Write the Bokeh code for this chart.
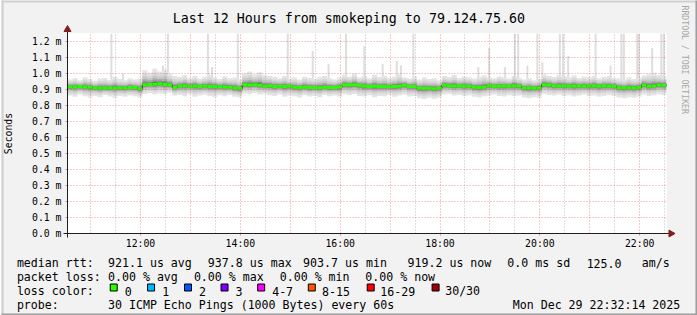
import math
import pandas as pd
from bokeh.plotting import figure
from bokeh.core.properties import value
from bokeh.models import (Range1d, FixedTicker, CustomJSTickFormatter, DatetimeTickFormatter)
from bokeh.embed import file_html
from bokeh.resources import INLINE

# ---------------- data ----------------
DAY = "2025-12-29"
START = "10:32:14"
END = "22:32:14"
BIN_MINUTES = 6

median_ms = [
    0.917, 0.916, 0.918, 0.916, 0.915, 0.909, 0.910, 0.908, 0.911, 0.910,
    0.909, 0.911, 0.913, 0.912, 0.904, 0.929, 0.931, 0.933, 0.936, 0.931,
    0.929, 0.912, 0.922, 0.923, 0.921, 0.922, 0.919, 0.920, 0.918, 0.919,
    0.917, 0.916, 0.914, 0.909, 0.906, 0.929, 0.928, 0.930, 0.927, 0.921,
    0.923, 0.919, 0.921, 0.918, 0.920, 0.914, 0.913, 0.915, 0.912, 0.913,
    0.911, 0.914, 0.912, 0.913, 0.915, 0.929, 0.928, 0.929, 0.926, 0.921,
    0.919, 0.920, 0.918, 0.919, 0.917, 0.919, 0.920, 0.927, 0.919, 0.918,
    0.908, 0.906, 0.908, 0.905, 0.907, 0.926, 0.924, 0.922, 0.923, 0.921,
    0.922, 0.914, 0.912, 0.916, 0.924, 0.921, 0.920, 0.922, 0.921, 0.924,
    0.922, 0.910, 0.909, 0.908, 0.910, 0.930, 0.928, 0.923, 0.922, 0.924,
    0.921, 0.922, 0.923, 0.921, 0.922, 0.923, 0.921, 0.922, 0.920, 0.921,
    0.911, 0.910, 0.911, 0.910, 0.912, 0.928, 0.920, 0.922, 0.928, 0.927,
]

smoke_hi_ms = [
    0.962, 0.970, 0.958, 0.975, 0.966, 0.955, 0.968, 0.972, 0.960, 0.978,
    0.965, 0.958, 0.970, 0.962, 0.968, 1.020, 1.005, 1.030, 1.012, 1.025,
    0.998, 0.985, 0.978, 0.990, 0.972, 0.985, 0.968, 0.980, 0.992, 0.975,
    0.966, 0.982, 0.970, 0.975, 0.962, 1.000, 1.012, 0.995, 1.008, 0.990,
    0.985, 0.978, 0.970, 0.985, 0.968, 0.975, 0.962, 0.980, 0.972, 0.966,
    0.978, 0.985, 0.970, 0.962, 0.975, 0.990, 0.982, 0.998, 0.975, 0.985,
    0.970, 0.992, 0.978, 0.986, 0.972, 0.980, 0.996, 0.975, 0.968, 0.982,
    0.962, 0.975, 0.966, 0.970, 0.958, 0.985, 0.978, 0.990, 0.972, 0.982,
    0.975, 0.968, 0.980, 0.988, 0.975, 0.970, 0.982, 0.976, 0.968, 0.985,
    0.972, 0.962, 0.970, 0.958, 0.965, 0.995, 0.985, 0.978, 0.990, 0.982,
    0.975, 0.988, 0.972, 0.980, 0.976, 0.985, 0.970, 0.978, 0.984, 0.972,
    0.968, 0.962, 0.975, 0.966, 0.970, 0.988, 0.995, 1.005, 0.990, 0.985,
]

smoke_lo_ms = [
    0.862, 0.855, 0.868, 0.858, 0.850, 0.860, 0.852, 0.865, 0.856, 0.848,
    0.860, 0.854, 0.862, 0.858, 0.850, 0.872, 0.878, 0.868, 0.875, 0.870,
    0.880, 0.862, 0.865, 0.858, 0.870, 0.855, 0.862, 0.868, 0.860, 0.852,
    0.864, 0.858, 0.866, 0.855, 0.850, 0.875, 0.870, 0.878, 0.868, 0.872,
    0.865, 0.860, 0.868, 0.855, 0.862, 0.858, 0.850, 0.864, 0.856, 0.860,
    0.852, 0.866, 0.858, 0.862, 0.855, 0.870, 0.865, 0.872, 0.860, 0.856,
    0.864, 0.852, 0.860, 0.858, 0.866, 0.855, 0.862, 0.868, 0.857, 0.860,
    0.845, 0.840, 0.848, 0.842, 0.850, 0.868, 0.872, 0.862, 0.866, 0.858,
    0.864, 0.855, 0.850, 0.858, 0.862, 0.868, 0.860, 0.856, 0.864, 0.858,
    0.862, 0.850, 0.846, 0.852, 0.848, 0.872, 0.866, 0.862, 0.868, 0.858,
    0.864, 0.856, 0.862, 0.868, 0.858, 0.862, 0.855, 0.860, 0.866, 0.858,
    0.850, 0.846, 0.852, 0.848, 0.855, 0.868, 0.860, 0.864, 0.870, 0.866,
]

spike_times = ["11:25", "11:39", "12:27", "12:33", "13:21", "13:26", "13:57",
               "14:57", "15:27", "15:46", "16:07", "16:29", "16:51", "17:08",
               "17:13", "17:28", "18:46", "18:59", "19:18", "19:30", "19:34",
               "19:45", "19:57", "20:03", "20:24", "20:28", "20:34", "21:07",
               "21:25", "21:38", "21:41", "21:57", "21:59", "22:15", "22:26",
               "22:29"]
spike_top_ms = [1.30, 1.00, 1.05, 1.30, 1.30, 1.04, 1.30,
                1.30, 1.14, 1.06, 1.30, 1.17, 1.06, 1.08,
                1.05, 1.30, 1.04, 1.16, 1.04, 1.30, 1.30,
                1.05, 1.30, 1.07, 1.30, 1.30, 1.11, 1.30,
                1.05, 1.30, 1.30, 1.30, 1.30, 1.16, 1.30,
                1.30]

y_ticks = [0.0, 0.1, 0.2, 0.3, 0.4, 0.5, 0.6, 0.7, 0.8, 0.9, 1.0, 1.1, 1.2]
x_tick_times = ["12:00", "14:00", "16:00", "18:00", "20:00", "22:00"]
grid_hours = ["11:00", "12:00", "13:00", "14:00", "15:00", "16:00", "17:00",
              "18:00", "19:00", "20:00", "21:00", "22:00"]
grid_half_hours = ["11:30", "12:30", "13:30", "14:30", "15:30", "16:30",
                   "17:30", "18:30", "19:30", "20:30", "21:30", "22:30"]

title_text = "Last 12 Hours from smokeping to 79.124.75.60"
y_title = "Seconds"
rtt_label = "median rtt:"
rtt_stats = ["921.1 us avg", "937.8 us max", "903.7 us min", "919.2 us now",
             "0.0 ms sd", "125.0", "am/s"]
loss_label = "packet loss:"
loss_stats = ["0.00 % avg", "0.00 % max", "0.00 % min", "0.00 % now"]
color_label = "loss color:"
loss_classes = ["0", "1", "2", "3", "4-7", "8-15", "16-29", "30/30"]
loss_class_colors = ["#26ff00", "#00b8ff", "#0059ff", "#7e00ff",
                     "#ff00ff", "#ff5500", "#ff0000", "#a10000"]
probe_label = "probe:"
probe_text = "30 ICMP Echo Pings (1000 Bytes) every 60s"
stamp_text = "Mon Dec 29 22:32:14 2025"
watermark_text = "RRDTOOL / TOBI OETIKER"

# ---------------- layout / style ----------------
W, H = 697, 315
FRAME_L, FRAME_R, FRAME_T, FRAME_B = 66, 666, 33, 233
FONT = "DejaVu Sans Mono"
BACK = "#f2f2f2"
MGRID = "#de4f4f"
GRIDC = "#8f8f8f"
ARROWC = "#801f1f"
AXISC = "#1f1f1f"
SMOKE = [(1.00, "#e4e4e4"), (0.75, "#d7d7d7"), (0.55, "#c6c6c6"),
         (0.38, "#adadad"), (0.24, "#8c8c8c"), (0.12, "#5e5e5e")]


def ms(hhmm):
    return pd.Timestamp(f"{DAY} {hhmm}").value / 1e6


t0, t1 = ms(START), ms(END)
bin_ms = BIN_MINUTES * 60000
n = len(median_ms)
left = [t0 + i * bin_ms for i in range(n)]
right = [x + bin_ms for x in left]
px_ms = (t1 - t0) / (FRAME_R - FRAME_L)          # ms per pixel
px_val = 1.25 / (FRAME_B - FRAME_T)              # value per pixel

p = figure(width=W, height=H, x_axis_type="datetime", output_backend="svg",
           toolbar_location=None, title=None,
           x_range=Range1d(t0, t1), y_range=Range1d(0, 1.25),
           min_border_left=FRAME_L, min_border_right=W - FRAME_R,
           min_border_top=FRAME_T, min_border_bottom=H - FRAME_B)
p.background_fill_color = "white"
p.border_fill_color = BACK
p.outline_line_color = None

# spikes (max ping)
p.vbar(x=[ms(t) for t in spike_times], width=2.4 * 60000, bottom=0.93,
       top=spike_top_ms, fill_color="#dedede", line_color=None)

# smoke
for f, col in SMOKE:
    bot = [m - f * (m - lo) for m, lo in zip(median_ms, smoke_lo_ms)]
    top = [m + f * (hi - m) for m, hi in zip(median_ms, smoke_hi_ms)]
    p.quad(left=left, right=right, bottom=bot, top=top,
           fill_color=col, line_color=None)

# median
p.step(x=left + [t1], y=median_ms + [median_ms[-1]], mode="after",
       line_color="#202020", line_width=1)
p.segment(x0=left, x1=right, y0=median_ms, y1=median_ms,
          line_color=loss_class_colors[0], line_width=3)

# grids (drawn over the data like rrdtool)
p.ygrid.ticker = FixedTicker(ticks=y_ticks)
p.ygrid.grid_line_color = MGRID
p.ygrid.grid_line_alpha = 0.6
p.ygrid.grid_line_dash = "1 2"
p.xgrid.ticker = FixedTicker(ticks=[ms(t) for t in grid_hours],
                             minor_ticks=[ms(t) for t in grid_half_hours])
p.xgrid.grid_line_color = MGRID
p.xgrid.grid_line_alpha = 0.6
p.xgrid.grid_line_dash = "1 2"
p.xgrid.minor_grid_line_color = GRIDC
p.xgrid.minor_grid_line_alpha = 0.6
p.xgrid.minor_grid_line_dash = "1 2"
for g in (p.xgrid, p.ygrid):
    g.level = "guide"

# axes
ya = p.yaxis[0]
ya.ticker = FixedTicker(ticks=y_ticks)
ya.formatter = CustomJSTickFormatter(code="return tick.toFixed(1) + ' m';")
ya.axis_line_color = None
ya.major_tick_line_color = MGRID
ya.major_tick_line_alpha = 0.6
ya.major_tick_out = 2
ya.major_tick_in = 0
ya.minor_tick_line_color = None
ya.major_label_standoff = 4
ya.major_label_text_font = FONT
ya.major_label_text_font_size = "9.8px"
ya.major_label_text_color = "black"
ya.axis_label = y_title
ya.axis_label_text_font = FONT
ya.axis_label_text_font_size = "9.8px"
ya.axis_label_text_font_style = "normal"
ya.axis_label_text_color = "black"
ya.axis_label_standoff = 15

xa = p.xaxis[0]
xa.ticker = FixedTicker(ticks=[ms(t) for t in x_tick_times])
hm = "%H:%M"
xa.formatter = DatetimeTickFormatter(hours=hm, hourmin=hm, minutes=hm, minsec=hm,
                                     seconds=hm, days=hm, months=hm, years=hm)
xa.axis_line_color = None
xa.major_tick_line_color = MGRID
xa.major_tick_line_alpha = 0.6
xa.major_tick_out = 2
xa.major_tick_in = 0
xa.minor_tick_line_color = None
xa.major_label_standoff = 2
xa.major_label_text_font = FONT
xa.major_label_text_font_size = "9.8px"
xa.major_label_text_color = "black"


# ---------- items outside the frame: glyphs on the overlay level ----------
def X(cx):
    return t0 + (cx - FRAME_L) * px_ms


def Y(cy):
    return (FRAME_B - cy) * px_val


def text(cx, cy, s, size="11.6px", align="left", color="black", angle=0.0):
    p.text(x=[X(cx)], y=[Y(cy)], text=[s], text_font=value(FONT),
           text_font_size=value(size), text_align=align,
           text_baseline="alphabetic", text_color=color, angle=angle,
           level="overlay")


def box(cx0, cy0, cx1, cy1, fill, line=None):
    p.quad(left=[X(cx0)], right=[X(cx1)], top=[Y(cy0)], bottom=[Y(cy1)],
           fill_color=fill, line_color=line, line_width=1, level="overlay")


# axis lines with arrow heads
p.segment(x0=[t0], y0=[-4 * px_val], x1=[t0], y1=[1.25 + 4 * px_val],
          line_color=AXISC, line_width=1, level="overlay")
p.segment(x0=[t0 - 4 * px_ms], y0=[0], x1=[t1 + 4 * px_ms], y1=[0],
          line_color=AXISC, line_width=1, level="overlay")
p.scatter(x=[t0], y=[1.25 + 4 * px_val], marker="triangle", size=7,
          fill_color=ARROWC, line_color=ARROWC, level="overlay")
p.scatter(x=[t1 + 4.5 * px_ms], y=[0], marker="triangle", size=7, angle=-math.pi / 2,
          fill_color=ARROWC, line_color=ARROWC, level="overlay")

# 3d frame
box(0, 0, W, 2, "#cfcfcf")
box(0, 0, 2, H, "#cfcfcf")
box(W - 2, 0, W, H, "#9e9e9e")
box(0, H - 2, W, H, "#9e9e9e")

text(347.8, 18.4, title_text, size="13.3px", align="center")
text(684.5, 5, watermark_text, size="8.2px", color="#a8a8a8", angle=-math.pi / 2)

ROW = [262.7, 276.7, 290.7, 304.8]
RTT_X = [107.3, 207.3, 302.7, 407.3, 507.3, 586.7, 642]
LOSS_X = [107.3, 193.3, 279.3, 365]
BOX_X = [108.3, 145.7, 182.7, 219.3, 256, 306.7, 365.7, 430.7]
CLASS_X = [124, 161.7, 198.3, 235, 271.7, 321.7, 380, 445]
LX = 16
adj = 0.7

text(LX - adj, ROW[0], rtt_label)
for x, s in zip(RTT_X, rtt_stats):
    text(x - adj, ROW[0], s)
text(LX - adj, ROW[1], loss_label)
for x, s in zip(LOSS_X, loss_stats):
    text(x - adj, ROW[1], s)
text(LX - adj, ROW[2], color_label)
for bx, tx, s, c in zip(BOX_X, CLASS_X, loss_classes, loss_class_colors):
    box(bx + 0.5, 283.5, bx + 7.5, 290.5, c, line="black")
    text(tx - adj, ROW[2], s)
text(LX - adj, ROW[3], probe_label)
text(107.3 - adj, ROW[3], probe_text)
text(512.7 - adj, ROW[3], stamp_text)

open("out.html", "w").write(file_html(p, INLINE))
